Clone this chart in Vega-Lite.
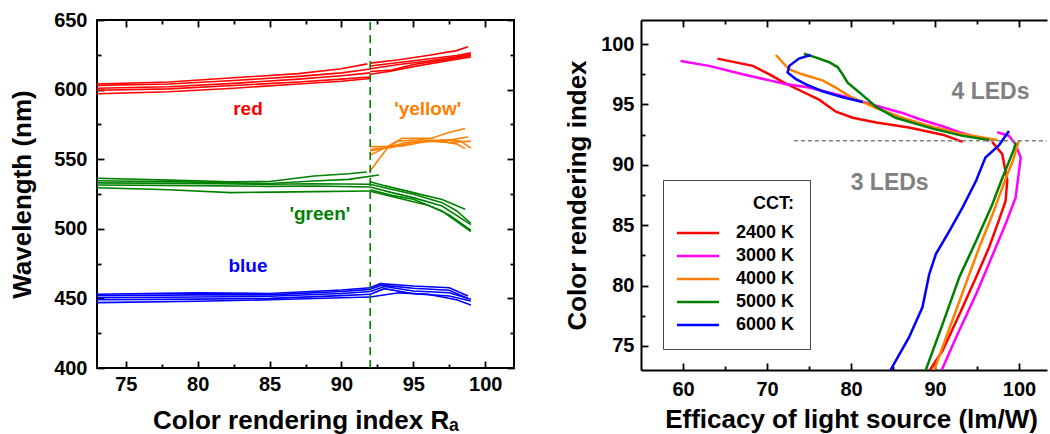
{
"$schema":"https://vega.github.io/schema/vega-lite/v6.json",
"bounds":"flush",
"spacing":127,
"padding":{"left":8,"top":9,"right":5,"bottom":0},
"config":{"font":"Liberation Sans","view":{"stroke":null},
 "axis":{"grid":false,"ticks":true,"domainColor":"black","domainWidth":2,"tickColor":"black","tickWidth":1.8,"labelFontSize":20,"labelFontWeight":"bold","labelColor":"black","titleFontSize":26,"titleFontWeight":"bold","titleColor":"black"}},
"resolve":{"scale":{"color":"independent"},"legend":{"color":"independent"}},
"datasets":{
"L":[
{"b":"red","s":"r1a","i":0,"x":73,"y":604},{"b":"red","s":"r1a","i":1,"x":78,"y":605.5},{"b":"red","s":"r1a","i":2,"x":82.5,"y":608.5},{"b":"red","s":"r1a","i":3,"x":87,"y":611.5},{"b":"red","s":"r1a","i":4,"x":90,"y":615},{"b":"red","s":"r1a","i":5,"x":91.8,"y":618.5},
{"b":"red","s":"r2a","i":0,"x":73,"y":603},{"b":"red","s":"r2a","i":1,"x":78,"y":604},{"b":"red","s":"r2a","i":2,"x":82.5,"y":606.5},{"b":"red","s":"r2a","i":3,"x":87,"y":609.5},{"b":"red","s":"r2a","i":4,"x":90,"y":612},{"b":"red","s":"r2a","i":5,"x":92,"y":614.8},
{"b":"red","s":"r3a","i":0,"x":73,"y":601},{"b":"red","s":"r3a","i":1,"x":78,"y":602},{"b":"red","s":"r3a","i":2,"x":82.5,"y":604.5},{"b":"red","s":"r3a","i":3,"x":87,"y":607.5},{"b":"red","s":"r3a","i":4,"x":90,"y":610},{"b":"red","s":"r3a","i":5,"x":92,"y":612},
{"b":"red","s":"r4a","i":0,"x":73,"y":599.5},{"b":"red","s":"r4a","i":1,"x":78,"y":600.5},{"b":"red","s":"r4a","i":2,"x":82.5,"y":603},{"b":"red","s":"r4a","i":3,"x":87,"y":605.5},{"b":"red","s":"r4a","i":4,"x":90,"y":607.5},{"b":"red","s":"r4a","i":5,"x":92,"y":609},
{"b":"red","s":"r5a","i":0,"x":73,"y":597},{"b":"red","s":"r5a","i":1,"x":78,"y":598.5},{"b":"red","s":"r5a","i":2,"x":82.5,"y":601},{"b":"red","s":"r5a","i":3,"x":87,"y":604},{"b":"red","s":"r5a","i":4,"x":90,"y":606},{"b":"red","s":"r5a","i":5,"x":92,"y":608},
{"b":"red","s":"r1b","i":0,"x":92,"y":619},{"b":"red","s":"r1b","i":1,"x":94,"y":621.5},{"b":"red","s":"r1b","i":2,"x":96,"y":624.5},{"b":"red","s":"r1b","i":3,"x":98,"y":628},{"b":"red","s":"r1b","i":4,"x":98.8,"y":630.8},
{"b":"red","s":"r2b","i":0,"x":92,"y":617},{"b":"red","s":"r2b","i":1,"x":94,"y":619.5},{"b":"red","s":"r2b","i":2,"x":96,"y":622},{"b":"red","s":"r2b","i":3,"x":98,"y":624.5},{"b":"red","s":"r2b","i":4,"x":99,"y":626.5},
{"b":"red","s":"r3b","i":0,"x":92,"y":615},{"b":"red","s":"r3b","i":1,"x":94,"y":618},{"b":"red","s":"r3b","i":2,"x":96,"y":620.5},{"b":"red","s":"r3b","i":3,"x":98,"y":623.5},{"b":"red","s":"r3b","i":4,"x":99,"y":625.5},
{"b":"red","s":"r4b","i":0,"x":92,"y":613},{"b":"red","s":"r4b","i":1,"x":93.5,"y":614},{"b":"red","s":"r4b","i":2,"x":95,"y":618},{"b":"red","s":"r4b","i":3,"x":97,"y":621},{"b":"red","s":"r4b","i":4,"x":99,"y":624.5},
{"b":"red","s":"r5b","i":0,"x":92,"y":611},{"b":"red","s":"r5b","i":1,"x":93.3,"y":613},{"b":"red","s":"r5b","i":2,"x":95,"y":616.5},{"b":"red","s":"r5b","i":3,"x":97,"y":620},{"b":"red","s":"r5b","i":4,"x":99,"y":623.5},
{"b":"yellow","s":"y1b","i":0,"x":92,"y":541.5},{"b":"yellow","s":"y1b","i":1,"x":92.6,"y":550},{"b":"yellow","s":"y1b","i":2,"x":93.2,"y":558},{"b":"yellow","s":"y1b","i":3,"x":94.2,"y":565},{"b":"yellow","s":"y1b","i":4,"x":96.3,"y":565},{"b":"yellow","s":"y1b","i":5,"x":97.4,"y":569},{"b":"yellow","s":"y1b","i":6,"x":98.6,"y":572},
{"b":"yellow","s":"y2b","i":0,"x":92,"y":553},{"b":"yellow","s":"y2b","i":1,"x":92.6,"y":556},{"b":"yellow","s":"y2b","i":2,"x":93.9,"y":563},{"b":"yellow","s":"y2b","i":3,"x":95.5,"y":564},{"b":"yellow","s":"y2b","i":4,"x":97,"y":563},{"b":"yellow","s":"y2b","i":5,"x":98.8,"y":566},
{"b":"yellow","s":"y3b","i":0,"x":92,"y":559},{"b":"yellow","s":"y3b","i":1,"x":93,"y":559},{"b":"yellow","s":"y3b","i":2,"x":94.3,"y":559.5},{"b":"yellow","s":"y3b","i":3,"x":95.5,"y":562},{"b":"yellow","s":"y3b","i":4,"x":97,"y":564},{"b":"yellow","s":"y3b","i":5,"x":98.3,"y":563},{"b":"yellow","s":"y3b","i":6,"x":99,"y":558},
{"b":"yellow","s":"y4b","i":0,"x":92,"y":556},{"b":"yellow","s":"y4b","i":1,"x":93,"y":558},{"b":"yellow","s":"y4b","i":2,"x":94.5,"y":562},{"b":"yellow","s":"y4b","i":3,"x":96,"y":563},{"b":"yellow","s":"y4b","i":4,"x":97.5,"y":562},{"b":"yellow","s":"y4b","i":5,"x":99,"y":563},
{"b":"yellow","s":"y5b","i":0,"x":92,"y":557},{"b":"yellow","s":"y5b","i":1,"x":93.5,"y":558.5},{"b":"yellow","s":"y5b","i":2,"x":95,"y":562},{"b":"yellow","s":"y5b","i":3,"x":96.5,"y":563.5},{"b":"yellow","s":"y5b","i":4,"x":98,"y":561},{"b":"yellow","s":"y5b","i":5,"x":98.6,"y":557.6},
{"b":"green","s":"g1a","i":0,"x":73,"y":536.3},{"b":"green","s":"g1a","i":1,"x":78,"y":535},{"b":"green","s":"g1a","i":2,"x":82.3,"y":533.8},{"b":"green","s":"g1a","i":3,"x":85,"y":534},{"b":"green","s":"g1a","i":4,"x":88.1,"y":537.9},{"b":"green","s":"g1a","i":5,"x":90.5,"y":539.5},{"b":"green","s":"g1a","i":6,"x":91.75,"y":540.8},
{"b":"green","s":"g2a","i":0,"x":73,"y":534.5},{"b":"green","s":"g2a","i":1,"x":80,"y":533.5},{"b":"green","s":"g2a","i":2,"x":85,"y":532.5},{"b":"green","s":"g2a","i":3,"x":88.1,"y":534.3},{"b":"green","s":"g2a","i":4,"x":90.5,"y":535.5},{"b":"green","s":"g2a","i":5,"x":92.6,"y":538.6},
{"b":"green","s":"g3a","i":0,"x":73,"y":533},{"b":"green","s":"g3a","i":1,"x":80,"y":532.5},{"b":"green","s":"g3a","i":2,"x":85,"y":532},{"b":"green","s":"g3a","i":3,"x":88.1,"y":532.4},{"b":"green","s":"g3a","i":4,"x":92,"y":532},
{"b":"green","s":"g4a","i":0,"x":73,"y":531.5},{"b":"green","s":"g4a","i":1,"x":80,"y":531},{"b":"green","s":"g4a","i":2,"x":85,"y":530.5},{"b":"green","s":"g4a","i":3,"x":88.1,"y":530.7},{"b":"green","s":"g4a","i":4,"x":92,"y":530},
{"b":"green","s":"g5a","i":0,"x":73,"y":529.5},{"b":"green","s":"g5a","i":1,"x":78,"y":528},{"b":"green","s":"g5a","i":2,"x":82.3,"y":526},{"b":"green","s":"g5a","i":3,"x":88.1,"y":526.7},{"b":"green","s":"g5a","i":4,"x":92,"y":527.2},
{"b":"green","s":"g1b","i":0,"x":92,"y":533.8},{"b":"green","s":"g1b","i":1,"x":93,"y":531},{"b":"green","s":"g1b","i":2,"x":95,"y":526},{"b":"green","s":"g1b","i":3,"x":97,"y":521},{"b":"green","s":"g1b","i":4,"x":98.6,"y":514},
{"b":"green","s":"g2b","i":0,"x":92,"y":532},{"b":"green","s":"g2b","i":1,"x":93,"y":529.5},{"b":"green","s":"g2b","i":2,"x":95,"y":524.8},{"b":"green","s":"g2b","i":3,"x":97,"y":518.8},{"b":"green","s":"g2b","i":4,"x":98,"y":513},{"b":"green","s":"g2b","i":5,"x":99,"y":504},
{"b":"green","s":"g3b","i":0,"x":92,"y":530},{"b":"green","s":"g3b","i":1,"x":93.5,"y":526},{"b":"green","s":"g3b","i":2,"x":95,"y":522.4},{"b":"green","s":"g3b","i":3,"x":97,"y":516.4},{"b":"green","s":"g3b","i":4,"x":99,"y":503},
{"b":"green","s":"g4b","i":0,"x":92,"y":528},{"b":"green","s":"g4b","i":1,"x":93.5,"y":524},{"b":"green","s":"g4b","i":2,"x":95,"y":521.2},{"b":"green","s":"g4b","i":3,"x":97,"y":512.8},{"b":"green","s":"g4b","i":4,"x":99,"y":498},
{"b":"green","s":"g5b","i":0,"x":92,"y":527},{"b":"green","s":"g5b","i":1,"x":94,"y":522},{"b":"green","s":"g5b","i":2,"x":96,"y":517},{"b":"green","s":"g5b","i":3,"x":97.5,"y":510},{"b":"green","s":"g5b","i":4,"x":99,"y":499},
{"b":"blue","s":"b1a","i":0,"x":73,"y":453},{"b":"blue","s":"b1a","i":1,"x":80,"y":454},{"b":"blue","s":"b1a","i":2,"x":85,"y":453.5},{"b":"blue","s":"b1a","i":3,"x":90,"y":456},{"b":"blue","s":"b1a","i":4,"x":92,"y":457.7},
{"b":"blue","s":"b2a","i":0,"x":73,"y":452},{"b":"blue","s":"b2a","i":1,"x":80,"y":452.5},{"b":"blue","s":"b2a","i":2,"x":85,"y":452.5},{"b":"blue","s":"b2a","i":3,"x":90,"y":455},{"b":"blue","s":"b2a","i":4,"x":92,"y":456.5},
{"b":"blue","s":"b3a","i":0,"x":73,"y":450.5},{"b":"blue","s":"b3a","i":1,"x":80,"y":451},{"b":"blue","s":"b3a","i":2,"x":85,"y":451.5},{"b":"blue","s":"b3a","i":3,"x":90,"y":453.5},{"b":"blue","s":"b3a","i":4,"x":92,"y":455},
{"b":"blue","s":"b4a","i":0,"x":73,"y":449},{"b":"blue","s":"b4a","i":1,"x":80,"y":449.5},{"b":"blue","s":"b4a","i":2,"x":85,"y":450},{"b":"blue","s":"b4a","i":3,"x":90,"y":452},{"b":"blue","s":"b4a","i":4,"x":92,"y":453},
{"b":"blue","s":"b5a","i":0,"x":73,"y":447},{"b":"blue","s":"b5a","i":1,"x":80,"y":448},{"b":"blue","s":"b5a","i":2,"x":85,"y":449},{"b":"blue","s":"b5a","i":3,"x":90,"y":450.5},{"b":"blue","s":"b5a","i":4,"x":92,"y":451},
{"b":"blue","s":"b1b","i":0,"x":92,"y":457.7},{"b":"blue","s":"b1b","i":1,"x":92.7,"y":460.6},{"b":"blue","s":"b1b","i":2,"x":95,"y":458.9},{"b":"blue","s":"b1b","i":3,"x":97.5,"y":457.7},{"b":"blue","s":"b1b","i":4,"x":98.8,"y":451.7},
{"b":"blue","s":"b2b","i":0,"x":92,"y":456.5},{"b":"blue","s":"b2b","i":1,"x":92.8,"y":459.5},{"b":"blue","s":"b2b","i":2,"x":95,"y":457.3},{"b":"blue","s":"b2b","i":3,"x":97.5,"y":455.8},{"b":"blue","s":"b2b","i":4,"x":98.8,"y":450},
{"b":"blue","s":"b3b","i":0,"x":92,"y":455},{"b":"blue","s":"b3b","i":1,"x":93,"y":458.5},{"b":"blue","s":"b3b","i":2,"x":95,"y":455.3},{"b":"blue","s":"b3b","i":3,"x":97.5,"y":454.1},{"b":"blue","s":"b3b","i":4,"x":99,"y":449.4},
{"b":"blue","s":"b4b","i":0,"x":92,"y":453},{"b":"blue","s":"b4b","i":1,"x":93,"y":457},{"b":"blue","s":"b4b","i":2,"x":95,"y":453.4},{"b":"blue","s":"b4b","i":3,"x":97.5,"y":451.7},{"b":"blue","s":"b4b","i":4,"x":99,"y":448.1},
{"b":"blue","s":"b5b","i":0,"x":92,"y":451},{"b":"blue","s":"b5b","i":1,"x":94,"y":454},{"b":"blue","s":"b5b","i":2,"x":96,"y":453},{"b":"blue","s":"b5b","i":3,"x":98,"y":449},{"b":"blue","s":"b5b","i":4,"x":99,"y":445.3}
],
"Ltxt":[{"b":"red","t":"red","x":83.5,"y":586},{"b":"yellow","t":"'yellow'","x":96.0,"y":586},{"b":"green","t":"'green'","x":88.5,"y":510.4},{"b":"blue","t":"blue","x":83.5,"y":473}],
"Lrule":[{"x":92,"y1":400,"y2":650}],
"R":[
{"c":"2400 K","s":"a","i":0,"x":64.1,"y":98.8},{"c":"2400 K","s":"a","i":1,"x":68.3,"y":98.2},{"c":"2400 K","s":"a","i":2,"x":70.3,"y":97.5},{"c":"2400 K","s":"a","i":3,"x":71.8,"y":96.9},{"c":"2400 K","s":"a","i":4,"x":73.8,"y":96.2},{"c":"2400 K","s":"a","i":5,"x":76.2,"y":95.4},{"c":"2400 K","s":"a","i":6,"x":78.2,"y":94.4},{"c":"2400 K","s":"a","i":7,"x":80.2,"y":93.9},{"c":"2400 K","s":"a","i":8,"x":83.0,"y":93.5},{"c":"2400 K","s":"a","i":9,"x":86.9,"y":93.1},{"c":"2400 K","s":"a","i":10,"x":90.9,"y":92.5},{"c":"2400 K","s":"a","i":11,"x":93.3,"y":91.9},
{"c":"2400 K","s":"b","i":0,"x":96.8,"y":91.9},{"c":"2400 K","s":"b","i":1,"x":98.0,"y":90.9},{"c":"2400 K","s":"b","i":2,"x":98.6,"y":88.7},{"c":"2400 K","s":"b","i":3,"x":98.4,"y":87.0},{"c":"2400 K","s":"b","i":4,"x":97.6,"y":85.4},{"c":"2400 K","s":"b","i":5,"x":96.4,"y":83.1},{"c":"2400 K","s":"b","i":6,"x":94.9,"y":80.7},{"c":"2400 K","s":"b","i":7,"x":92.9,"y":77.6},{"c":"2400 K","s":"b","i":8,"x":90.9,"y":74.6},{"c":"2400 K","s":"b","i":9,"x":89.4,"y":73.0},
{"c":"3000 K","s":"a","i":0,"x":59.7,"y":98.6},{"c":"3000 K","s":"a","i":1,"x":63.1,"y":98.2},{"c":"3000 K","s":"a","i":2,"x":67.1,"y":97.5},{"c":"3000 K","s":"a","i":3,"x":70.3,"y":97.0},{"c":"3000 K","s":"a","i":4,"x":72.2,"y":96.7},{"c":"3000 K","s":"a","i":5,"x":75.0,"y":96.4},{"c":"3000 K","s":"a","i":6,"x":79.0,"y":95.7},{"c":"3000 K","s":"a","i":7,"x":83.0,"y":94.9},{"c":"3000 K","s":"a","i":8,"x":86.1,"y":94.3},{"c":"3000 K","s":"a","i":9,"x":88.1,"y":93.8},{"c":"3000 K","s":"a","i":10,"x":90.9,"y":93.2},{"c":"3000 K","s":"a","i":11,"x":92.9,"y":92.7},{"c":"3000 K","s":"a","i":12,"x":94.9,"y":92.3},{"c":"3000 K","s":"a","i":13,"x":96.4,"y":92.0},
{"c":"3000 K","s":"b","i":0,"x":97.4,"y":92.7},{"c":"3000 K","s":"b","i":1,"x":98.8,"y":92.4},{"c":"3000 K","s":"b","i":2,"x":99.6,"y":91.7},{"c":"3000 K","s":"b","i":3,"x":100.2,"y":90.6},{"c":"3000 K","s":"b","i":4,"x":100.0,"y":89.5},{"c":"3000 K","s":"b","i":5,"x":99.6,"y":87.3},{"c":"3000 K","s":"b","i":6,"x":98.4,"y":85.1},{"c":"3000 K","s":"b","i":7,"x":97.2,"y":83.1},{"c":"3000 K","s":"b","i":8,"x":94.9,"y":79.3},{"c":"3000 K","s":"b","i":9,"x":92.5,"y":75.7},{"c":"3000 K","s":"b","i":10,"x":90.8,"y":73.0},
{"c":"4000 K","s":"a","i":0,"x":71.05,"y":99.1},{"c":"4000 K","s":"a","i":1,"x":71.85,"y":98.5},{"c":"4000 K","s":"a","i":2,"x":72.65,"y":97.9},{"c":"4000 K","s":"a","i":3,"x":74.2,"y":97.5},{"c":"4000 K","s":"a","i":4,"x":76.6,"y":97.0},{"c":"4000 K","s":"a","i":5,"x":78.2,"y":96.4},{"c":"4000 K","s":"a","i":6,"x":79.8,"y":95.7},{"c":"4000 K","s":"a","i":7,"x":81.4,"y":95.2},{"c":"4000 K","s":"a","i":8,"x":83.0,"y":94.7},{"c":"4000 K","s":"a","i":9,"x":86.1,"y":93.9},{"c":"4000 K","s":"a","i":10,"x":88.9,"y":93.3},{"c":"4000 K","s":"a","i":11,"x":92.9,"y":92.6},{"c":"4000 K","s":"a","i":12,"x":97.4,"y":92.05},
{"c":"4000 K","s":"b","i":0,"x":100.0,"y":92.0},{"c":"4000 K","s":"b","i":1,"x":99.25,"y":90.3},{"c":"4000 K","s":"b","i":2,"x":98.45,"y":88.95},{"c":"4000 K","s":"b","i":3,"x":96.85,"y":85.9},{"c":"4000 K","s":"b","i":4,"x":95.26,"y":83.15},{"c":"4000 K","s":"b","i":5,"x":92.9,"y":78.7},{"c":"4000 K","s":"b","i":6,"x":89.9,"y":73.0},
{"c":"5000 K","s":"a","i":0,"x":74.4,"y":99.2},{"c":"5000 K","s":"a","i":1,"x":75.8,"y":98.9},{"c":"5000 K","s":"a","i":2,"x":77.4,"y":98.5},{"c":"5000 K","s":"a","i":3,"x":78.4,"y":98.1},{"c":"5000 K","s":"a","i":4,"x":79.0,"y":97.5},{"c":"5000 K","s":"a","i":5,"x":79.6,"y":96.8},{"c":"5000 K","s":"a","i":6,"x":81.0,"y":96.0},{"c":"5000 K","s":"a","i":7,"x":83.0,"y":94.8},{"c":"5000 K","s":"a","i":8,"x":85.3,"y":93.9},{"c":"5000 K","s":"a","i":9,"x":89.7,"y":93.0},{"c":"5000 K","s":"a","i":10,"x":93.3,"y":92.4},{"c":"5000 K","s":"a","i":11,"x":96.45,"y":92.05},
{"c":"5000 K","s":"b","i":0,"x":99.6,"y":91.85},{"c":"5000 K","s":"b","i":1,"x":99.4,"y":91.3},{"c":"5000 K","s":"b","i":2,"x":97.9,"y":88.7},{"c":"5000 K","s":"b","i":3,"x":96.8,"y":86.7},{"c":"5000 K","s":"b","i":4,"x":94.9,"y":83.7},{"c":"5000 K","s":"b","i":5,"x":92.9,"y":80.7},{"c":"5000 K","s":"b","i":6,"x":90.9,"y":76.8},{"c":"5000 K","s":"b","i":7,"x":88.9,"y":73.0},
{"c":"6000 K","s":"a","i":0,"x":75.2,"y":99.1},{"c":"6000 K","s":"a","i":1,"x":73.8,"y":98.8},{"c":"6000 K","s":"a","i":2,"x":72.65,"y":98.2},{"c":"6000 K","s":"a","i":3,"x":72.45,"y":97.65},{"c":"6000 K","s":"a","i":4,"x":73.45,"y":97.1},{"c":"6000 K","s":"a","i":5,"x":75.0,"y":96.55},{"c":"6000 K","s":"a","i":6,"x":76.6,"y":96.1},{"c":"6000 K","s":"a","i":7,"x":79.0,"y":95.6},{"c":"6000 K","s":"a","i":8,"x":81.4,"y":95.2},
{"c":"6000 K","s":"b","i":0,"x":98.8,"y":92.8},{"c":"6000 K","s":"b","i":1,"x":97.6,"y":91.6},{"c":"6000 K","s":"b","i":2,"x":96.0,"y":90.6},{"c":"6000 K","s":"b","i":3,"x":94.9,"y":88.7},{"c":"6000 K","s":"b","i":4,"x":93.3,"y":86.5},{"c":"6000 K","s":"b","i":5,"x":91.7,"y":84.5},{"c":"6000 K","s":"b","i":6,"x":90.1,"y":82.6},{"c":"6000 K","s":"b","i":7,"x":89.3,"y":80.9},{"c":"6000 K","s":"b","i":8,"x":88.5,"y":78.2},{"c":"6000 K","s":"b","i":9,"x":86.9,"y":75.7},{"c":"6000 K","s":"b","i":10,"x":84.7,"y":73.0}
],
"Rtxt":[{"t":"4 LEDs","x":96.6,"y":96.0},{"t":"3 LEDs","x":84.6,"y":88.5}],
"Rrule":[{"x1":73.2,"x2":103.3,"y":92}]
},
"hconcat":[
{
"width":417,"height":348,
"view":{"stroke":"black","strokeWidth":2},
"resolve":{"axis":{"x":"independent","y":"independent"}},
"layer":[
{"data":{"name":"L"},"transform":[{"filter":"substring(datum.s,2,3)=='a'"}],
 "mark":{"type":"line","strokeWidth":1.6},
 "encoding":{
  "x":{"field":"x","type":"quantitative","scale":{"domain":[73,102],"nice":false,"zero":false},"axis":{"orient":"bottom","values":[75,80,85,90,95,100],"tickSize":-7,"domain":false,"labelPadding":13,"title":"Color rendering index  Rₐ","titlePadding":13}},
  "y":{"field":"y","type":"quantitative","scale":{"domain":[400,650],"nice":false,"zero":false},"axis":{"orient":"left","values":[400,450,500,550,600,650],"tickSize":-7,"domain":false,"labelPadding":17,"title":"Wavelength (nm)","titlePadding":18}},
  "color":{"field":"b","type":"nominal","scale":{"domain":["red","yellow","green","blue"],"range":["#ff0000","#ff8000","#008000","#0000ff"]},"legend":null},
  "detail":{"field":"s"},
  "order":{"field":"i","type":"quantitative"}}},
{"data":{"name":"L"},"transform":[{"filter":"substring(datum.s,2,3)=='b'"}],
 "mark":{"type":"line","strokeWidth":1.6},
 "encoding":{
  "x":{"field":"x","type":"quantitative","scale":{"domain":[73,102],"nice":false,"zero":false},"axis":{"orient":"bottom","values":[77.5,82.5,87.5,92.5,97.5],"tickSize":-4,"labels":false,"domain":false,"title":null}},
  "y":{"field":"y","type":"quantitative","scale":{"domain":[400,650],"nice":false,"zero":false},"axis":{"orient":"left","values":[425,475,525,575,625],"tickSize":-4,"labels":false,"domain":false,"title":null}},
  "color":{"field":"b","type":"nominal","legend":null},
  "detail":{"field":"s"},
  "order":{"field":"i","type":"quantitative"}}},
{"data":{"name":"Lrule"},
 "mark":{"type":"rule","color":"#008000","strokeWidth":1.6,"strokeDash":[8,5]},
 "encoding":{
  "x":{"field":"x","type":"quantitative","axis":{"orient":"top","values":[75,80,85,90,95,100],"tickSize":-7,"labels":false,"domain":false,"title":null}},
  "y":{"field":"y1","type":"quantitative","axis":{"orient":"right","values":[400,450,500,550,600,650],"tickSize":-7,"labels":false,"domain":false,"title":null}},
  "y2":{"field":"y2"}}},
{"data":{"name":"Ltxt"},
 "mark":{"type":"text","fontSize":19,"fontWeight":"bold","align":"center","baseline":"middle"},
 "encoding":{
  "x":{"field":"x","type":"quantitative","axis":{"orient":"top","values":[77.5,82.5,87.5,92.5,97.5],"tickSize":-4,"labels":false,"domain":false,"title":null}},
  "y":{"field":"y","type":"quantitative","axis":{"orient":"right","values":[425,475,525,575,625],"tickSize":-4,"labels":false,"domain":false,"title":null}},
  "text":{"field":"t"},
  "color":{"field":"b","type":"nominal","legend":null}}}
]
},
{
"width":406,"height":350,
"resolve":{"axis":{"x":"independent","y":"independent"}},
"layer":[
{"data":{"name":"R"},"transform":[{"filter":"datum.s=='a'"}],
 "mark":{"type":"line","strokeWidth":2.5,"clip":true},
 "encoding":{
  "x":{"field":"x","type":"quantitative","scale":{"domain":[55,103.33],"nice":false,"zero":false},"axis":{"orient":"bottom","values":[60,70,80,90,100],"tickSize":-7,"domain":true,"labelPadding":16,"title":"Efficacy of light source (lm/W)","titlePadding":7,"titleX":210}},
  "y":{"field":"y","type":"quantitative","scale":{"domain":[73,102],"nice":false,"zero":false},"axis":{"orient":"left","values":[75,80,85,90,95,100],"tickSize":-7,"domain":true,"labelPadding":14,"title":"Color rendering index","titlePadding":10}},
  "color":{"field":"c","type":"nominal","scale":{"domain":["2400 K","3000 K","4000 K","5000 K","6000 K"],"range":["#ff0000","#ff00ff","#ff8000","#008000","#0000ff"]},
   "legend":{"orient":"none","legendX":22,"legendY":160,"title":"CCT:","symbolType":"M-3,0H3","symbolSize":196,"symbolStrokeWidth":2.5,"symbolOffset":11,"labelOffset":29,"rowPadding":5,"padding":15,"strokeColor":"#444444","fillColor":"white","titleAnchor":"end","titlePadding":11,"labelFontSize":18,"labelFontWeight":"bold","titleFontSize":18,"titleFontWeight":"bold","labelColor":"black","titleColor":"black"}},
  "order":{"field":"i","type":"quantitative"}}},
{"data":{"name":"R"},"transform":[{"filter":"datum.s=='b'"}],
 "mark":{"type":"line","strokeWidth":2.5,"clip":true},
 "encoding":{
  "x":{"field":"x","type":"quantitative","scale":{"domain":[55,103.33],"nice":false,"zero":false},"axis":{"orient":"bottom","values":[65,75,85,95],"tickSize":-4,"labels":false,"domain":false,"title":null}},
  "y":{"field":"y","type":"quantitative","scale":{"domain":[73,102],"nice":false,"zero":false},"axis":{"orient":"left","values":[77.5,82.5,87.5,92.5,97.5],"tickSize":-4,"labels":false,"domain":false,"title":null}},
  "color":{"field":"c","type":"nominal"},
  "order":{"field":"i","type":"quantitative"}}},
{"data":{"name":"Rrule"},
 "mark":{"type":"rule","color":"#808080","strokeWidth":1.5,"strokeDash":[4,3]},
 "encoding":{
  "x":{"field":"x1","type":"quantitative","axis":{"orient":"top","values":[60,70,80,90,100],"tickSize":-7,"labels":false,"domain":true,"title":null}},
  "x2":{"field":"x2"},
  "y":{"field":"y","type":"quantitative","axis":null}}},
{"data":{"name":"Rtxt"},
 "mark":{"type":"text","fontSize":23,"fontWeight":"bold","align":"center","baseline":"middle","color":"#808080"},
 "encoding":{
  "x":{"field":"x","type":"quantitative","axis":{"orient":"top","values":[65,75,85,95],"tickSize":-4,"labels":false,"domain":false,"title":null}},
  "y":{"field":"y","type":"quantitative","axis":null},
  "text":{"field":"t"}}}
]
}
]
}
